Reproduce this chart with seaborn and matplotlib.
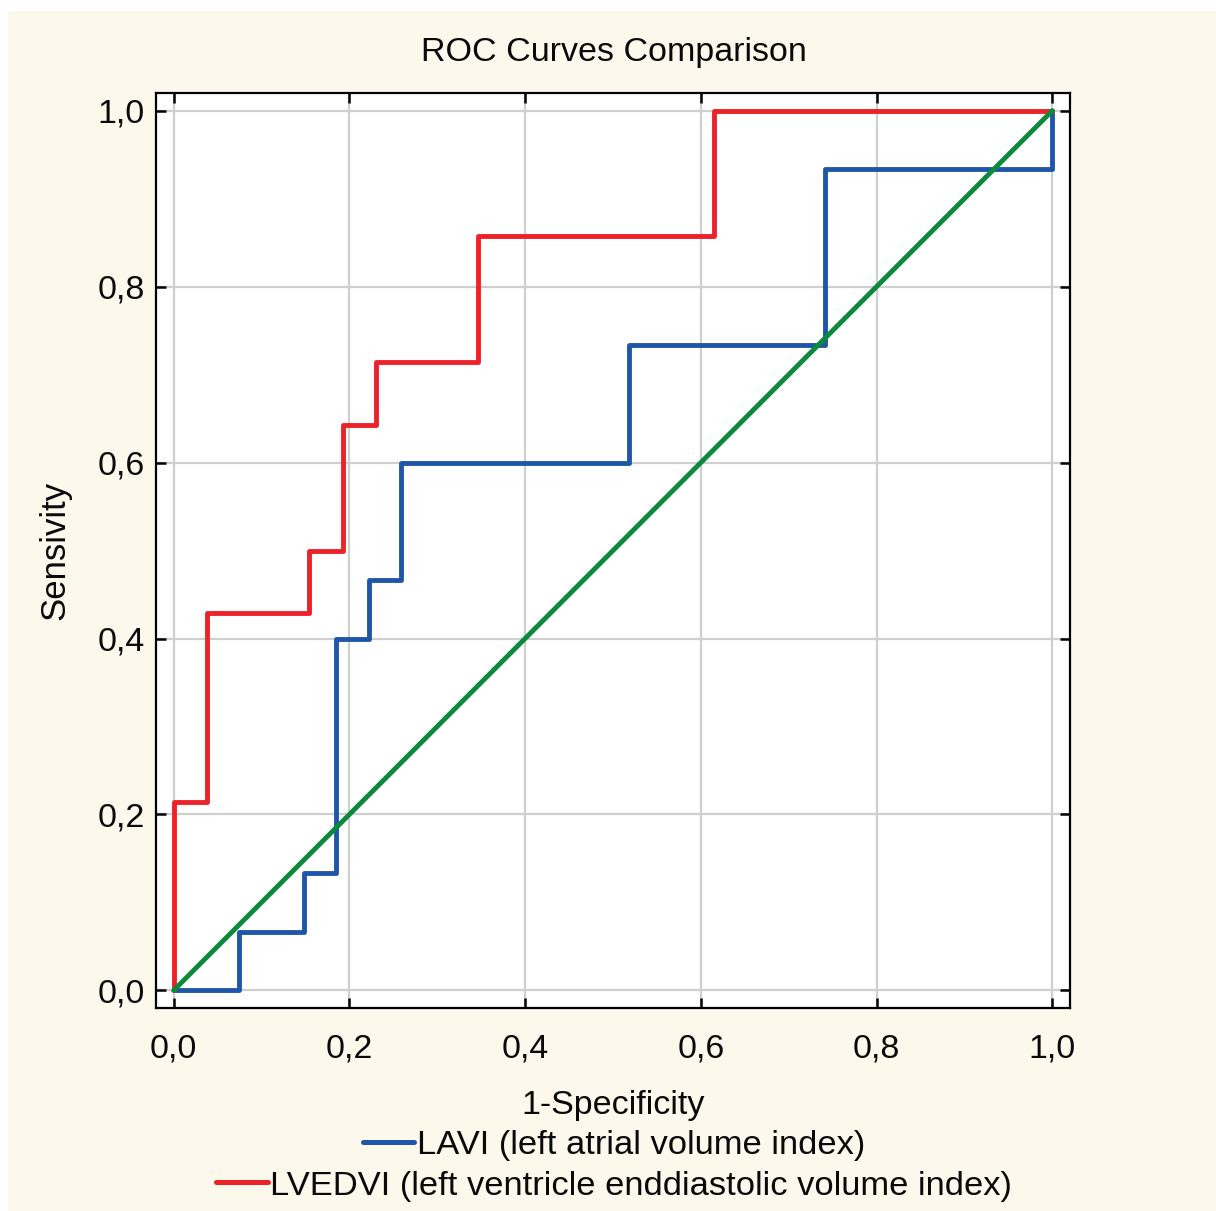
import matplotlib
matplotlib.use("Agg")
import matplotlib.pyplot as plt
from matplotlib.patches import Rectangle
from matplotlib.lines import Line2D
import seaborn as sns
import pandas as pd

# ROC curve vertices (false positive rate, true positive rate)
lavi_fpr = [0, 2/27, 2/27, 4/27, 4/27, 5/27, 5/27, 6/27, 6/27, 7/27, 7/27,
            14/27, 14/27, 20/27, 20/27, 1.0, 1.0]
lavi_tpr = [0, 0, 1/15, 1/15, 2/15, 2/15, 6/15, 6/15, 7/15, 7/15, 9/15,
            9/15, 11/15, 11/15, 14/15, 14/15, 1.0]

lvedvi_fpr = [0, 0, 1/26, 1/26, 4/26, 4/26, 5/26, 5/26, 6/26, 6/26, 9/26,
              9/26, 16/26, 16/26, 1.0]
lvedvi_tpr = [0, 3/14, 3/14, 6/14, 6/14, 7/14, 7/14, 9/14, 9/14, 10/14, 10/14,
              12/14, 12/14, 1.0, 1.0]

ref_fpr = [0.0, 1.0]
ref_tpr = [0.0, 1.0]

tick_values = [0.0, 0.2, 0.4, 0.6, 0.8, 1.0]
tick_labels = ["0,0", "0,2", "0,4", "0,6", "0,8", "1,0"]

series_names = ["LAVI (left atrial volume index)",
                "LVEDVI (left ventricle enddiastolic volume index)"]

BLUE = "#1f56a8"
RED = "#ec2228"
GREEN = "#0b8a3c"
CREAM = "#fdf8ec"

sns.set_theme(style="white")
plt.rcParams["font.family"] = ["Liberation Sans", "DejaVu Sans"]

fig = plt.figure(figsize=(12.16, 12.11), dpi=100)
fig.patch.set_facecolor("white")
fig.patches.append(Rectangle((8 / 1216, 0), 1 - 8 / 1216, 1 - 11 / 1211,
                             transform=fig.transFigure, facecolor=CREAM,
                             edgecolor="none", zorder=-10))

ax = fig.add_axes([0.1283, 0.1676, 0.8799 - 0.1283, 0.9232 - 0.1676])
ax.set_facecolor("white")

lw = 3.5
df_lavi = pd.DataFrame({"fpr": lavi_fpr, "tpr": lavi_tpr})
df_lvedvi = pd.DataFrame({"fpr": lvedvi_fpr, "tpr": lvedvi_tpr})
df_ref = pd.DataFrame({"fpr": ref_fpr, "tpr": ref_tpr})

sns.lineplot(data=df_lavi, x="fpr", y="tpr", sort=False, estimator=None,
             color=BLUE, linewidth=lw, ax=ax, zorder=3)
sns.lineplot(data=df_lvedvi, x="fpr", y="tpr", sort=False, estimator=None,
             color=RED, linewidth=lw, ax=ax, zorder=3)
sns.lineplot(data=df_ref, x="fpr", y="tpr", sort=False, estimator=None,
             color=GREEN, linewidth=lw, ax=ax, zorder=4)

ax.set_xlim(-0.02, 1.02)
ax.set_ylim(-0.02, 1.02)
ax.set_xticks(tick_values)
ax.set_xticklabels(tick_labels)
ax.set_yticks(tick_values)
ax.set_yticklabels(tick_labels)
ax.grid(True, color="#cfcfcf", linewidth=1.6, zorder=0)
ax.set_axisbelow(True)

for s in ax.spines.values():
    s.set_visible(True)
    s.set_color("black")
    s.set_linewidth(1.6)

ax.tick_params(axis="both", which="major", direction="in", length=7, width=1.8,
               color="black", labelsize=24.5, labelcolor="#0a0a0a",
               top=True, right=True, bottom=True, left=True,
               labeltop=False, labelright=False)
ax.tick_params(axis="x", pad=18)
ax.tick_params(axis="y", pad=8)

ax.set_xlabel("1-Specificity", fontsize=24.5, color="#0a0a0a", labelpad=19)
ax.set_ylabel("Sensivity", fontsize=25, color="#0a0a0a", labelpad=19)
fig.text(0.505, 1 - 52 / 1211, "ROC Curves Comparison", ha="center", va="center",
         fontsize=24.5, color="#0a0a0a")

# two centred legend rows below the axis label
rows = [(series_names[0], BLUE, 1145), (series_names[1], RED, 1186)]
for name, col, ypix in rows:
    h = Line2D([], [], color=col, linewidth=3.6)
    leg = fig.legend([h], [name], loc="center",
                     bbox_to_anchor=(0.505, 1 - ypix / 1211),
                     frameon=False, fontsize=24.8, handlelength=1.5,
                     handletextpad=0.08, borderpad=0, borderaxespad=0)
    for t in leg.get_texts():
        t.set_color("#0a0a0a")

fig.savefig("out.png", dpi=100, facecolor=fig.get_facecolor())
